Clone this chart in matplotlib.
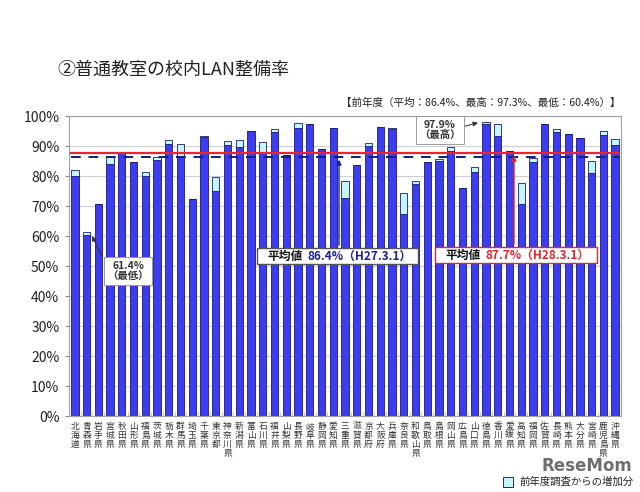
import matplotlib
matplotlib.use("Agg")
import matplotlib.pyplot as plt
from matplotlib.patches import Rectangle

plt.rcParams["font.family"] = ["Noto Sans CJK JP", "DejaVu Sans"]

# 都道府県
prefs = [
    "北海道", "青森県", "岩手県", "宮城県", "秋田県", "山形県", "福島県", "茨城県",
    "栃木県", "群馬県", "埼玉県", "千葉県", "東京都", "神奈川県", "新潟県", "富山県",
    "石川県", "福井県", "山梨県", "長野県", "岐阜県", "静岡県", "愛知県", "三重県",
    "滋賀県", "京都府", "大阪府", "兵庫県", "奈良県", "和歌山県", "鳥取県", "島根県",
    "岡山県", "広島県", "山口県", "徳島県", "香川県", "愛媛県", "高知県", "福岡県",
    "佐賀県", "長崎県", "熊本県", "大分県", "宮崎県", "鹿児島県", "沖縄県",
]
# 前年度 (H27.3.1)
prev = [
    80.0, 60.4, 70.6, 84.0, 87.6, 84.8, 80.0, 85.3,
    90.7, 86.4, 72.3, 93.1, 75.0, 90.3, 89.8, 95.0,
    88.1, 94.8, 87.0, 95.9, 97.3, 89.0, 95.9, 72.8,
    83.7, 90.1, 96.4, 95.7, 67.2, 77.3, 84.8, 85.0,
    88.4, 75.9, 81.4, 97.4, 93.3, 88.3, 70.7, 84.6,
    97.2, 94.8, 94.0, 92.6, 80.9, 93.7, 90.3,
]
# 今年度 (H28.3.1)
cur = [
    82.0, 61.4, 70.6, 86.4, 87.6, 84.8, 81.2, 86.2,
    92.1, 90.6, 72.3, 93.4, 79.7, 91.6, 92.0, 95.1,
    91.2, 95.7, 87.0, 97.6, 97.3, 89.0, 95.9, 78.4,
    83.7, 90.9, 96.4, 96.1, 74.4, 78.3, 84.8, 85.7,
    89.6, 75.9, 82.9, 97.9, 97.2, 88.3, 77.6, 85.9,
    97.2, 95.7, 94.0, 92.6, 85.0, 95.1, 92.2,
]
avg_prev = 86.4
avg_cur = 87.7
min_cur = 61.4
max_cur = 97.9

W, H = 640, 492


def fx(px):
    return px / W


def fy(py):
    return 1 - py / H


fig = plt.figure(figsize=(6.4, 4.92), dpi=100)
ax = fig.add_axes([fx(69), fy(416), (621 - 69) / W, (416 - 116) / H])

x = list(range(len(prefs)))
inc = [max(c - p, 0) for c, p in zip(cur, prev)]
ax.bar(x, prev, width=0.62, color="#3c3cf0", edgecolor="#1a1a70", linewidth=0.6, zorder=2)
ax.bar(x, inc, bottom=prev, width=0.62, color="#c4f6f6", edgecolor="#1a1a70",
       linewidth=0.6, zorder=2)

ax.plot([-0.3, 46.3], [avg_cur, avg_cur], color="#e8262d", lw=1.6, zorder=3)
ax.plot([-0.3, 46.3], [avg_prev, avg_prev], color="#1a1a80", lw=1.4,
        ls=(0, (5, 4)), zorder=3)

ax.set_xlim(-0.5, len(prefs) - 0.5)
ax.set_ylim(0, 100)
ax.set_yticks(range(0, 101, 10))
ax.set_yticklabels(["%d%%" % v for v in range(0, 101, 10)], fontsize=10, color="#222222")
ax.yaxis.grid(True, color="#cfcfcf", lw=0.8, zorder=0)
ax.set_axisbelow(True)
ax.set_xticks(x)
ax.set_xticklabels(["\n".join(p) for p in prefs], fontsize=6.3, color="#333333",
                   linespacing=1.0, va="top")
ax.tick_params(axis="x", length=0, pad=4)
ax.tick_params(axis="y", length=3, color="#888888", pad=4)
ax.set_xticks([i + 0.5 for i in x[:-1]], minor=True)
ax.tick_params(axis="x", which="minor", direction="in", length=3, color="#bbbbbb")
for s in ax.spines.values():
    s.set_color("#a0a0a0")
    s.set_linewidth(0.8)

fig.text(fx(57), fy(70), "②普通教室の校内LAN整備率", fontsize=13, color="#222222",
         ha="left", va="center")
fig.text(fx(621), fy(103), "【前年度（平均：86.4%、最高：97.3%、最低：60.4%）】",
         fontsize=7.6, color="#222222", ha="right", va="center")

# 最低
ax.annotate("", xy=(1.35, 60.8), xycoords="data",
            xytext=(fx(104), fy(260)), textcoords="figure fraction",
            arrowprops=dict(arrowstyle="-|>", color="#333333", lw=0.7,
                            mutation_scale=7), zorder=5)
fig.text(fx(128), fy(271), "%.1f%%\n（最低）" % min_cur, fontsize=7.5, fontweight="bold",
         color="#333333", ha="center", va="center", linespacing=1.1,
         bbox=dict(boxstyle="square,pad=0.3", facecolor="white", edgecolor="#999999",
                   linewidth=0.7))

# 最高
ax.annotate("", xy=(34.55, 98.0), xycoords="data",
            xytext=(fx(462), fy(127)), textcoords="figure fraction",
            arrowprops=dict(arrowstyle="-|>", color="#333333", lw=0.7,
                            mutation_scale=7), zorder=5)
fig.text(fx(440), fy(130), "%.1f%%\n（最高）" % max_cur, fontsize=7.5, fontweight="bold",
         color="#333333", ha="center", va="center", linespacing=1.1,
         bbox=dict(boxstyle="square,pad=0.3", facecolor="white", edgecolor="#999999",
                   linewidth=0.7))


def avg_box(x0, x1, y0, y1, xa, value, date, color, edge, text_x, val_x):
    ax.annotate("", xy=(fx(xa), value), xycoords=("figure fraction", "data"),
                xytext=(fx(xa), fy(y0)), textcoords="figure fraction",
                arrowprops=dict(arrowstyle="-|>", color=color, lw=1.0,
                                mutation_scale=7), zorder=5)
    fig.patches.append(Rectangle((fx(x0), fy(y1)), fx(x1 - x0), (y1 - y0) / H,
                                 transform=fig.transFigure, facecolor="white",
                                 edgecolor=edge, linewidth=1.0, zorder=6))
    yc = fy((y0 + y1) / 2)
    fig.text(fx(text_x), yc, "平均値", fontsize=8.5, fontweight="bold", color="#111111",
             ha="left", va="center", zorder=7)
    fig.text(fx(val_x), yc, "%.1f%%（%s）" % (value, date), fontsize=8.5,
             fontweight="bold", color=color, ha="left", va="center", zorder=7)


avg_box(257, 418, 248, 264, 339, avg_prev, "H27.3.1", "#1e1e96", "#555555", 267, 308)
avg_box(435, 597, 247, 263, 514, avg_cur, "H28.3.1", "#e0262d", "#c83232", 446, 486)

# 凡例
fig.patches.append(Rectangle((fx(503), fy(487)), fx(10), 10 / H, transform=fig.transFigure,
                             facecolor="#c4f6f6", edgecolor="#2a2a70", linewidth=0.7))
fig.text(fx(519), fy(482), "前年度調査からの増加分", fontsize=7.5, color="#222222",
         ha="left", va="center")
fig.text(fx(632), fy(466), "ReseMom", fontsize=12, fontweight="bold", color="#555555",
         family="DejaVu Sans", alpha=0.85, ha="right", va="center")

fig.savefig("out.png", dpi=100)
